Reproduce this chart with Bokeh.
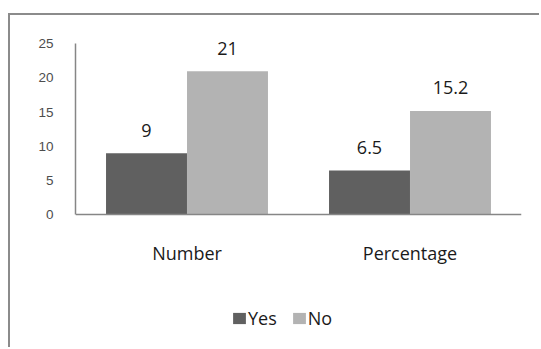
from bokeh.plotting import figure
from bokeh.models import ColumnDataSource, FactorRange, Range1d, Legend, LegendItem
from bokeh.transform import dodge
from bokeh.core.properties import value
from bokeh.embed import file_html
from bokeh.resources import INLINE

categories = ["Number", "Percentage"]
yes_values = [9, 6.5]
no_values = [21, 15.2]
yes_labels = ["9", "6.5"]
no_labels = ["21", "15.2"]
y_ticks = [0, 5, 10, 15, 20, 25]

src = ColumnDataSource(dict(cat=categories, yes=yes_values, no=no_values,
                            yes_lbl=yes_labels, no_lbl=no_labels))

# pixel scale: 6.85 px per unit; zero line at 214.5, frame spans screen 23..349
p = figure(x_range=FactorRange(factors=categories, range_padding=0),
           y_range=Range1d(-19.635, 27.956),
           width=531, height=334, output_backend="svg", toolbar_location=None,
           min_border_left=65, min_border_right=20, min_border_top=8, min_border_bottom=0)
p.margin = (13, 0, 0, 8)
p.styles = {"border-top": "2px solid #8b8b8b", "border-left": "2px solid #8b8b8b"}
p.outline_line_color = None
p.background_fill_color = "white"
p.border_fill_color = "white"
p.xgrid.visible = False
p.ygrid.visible = False

off = 0.1816
w = 0.363
r_yes = p.vbar(x=dodge("cat", -off, range=p.x_range), top="yes", width=w, source=src,
               fill_color="#606060", line_color=None)
r_no = p.vbar(x=dodge("cat", off, range=p.x_range), top="no", width=w, source=src,
              fill_color="#b3b3b3", line_color=None)

p.text(x=dodge("cat", -off, range=p.x_range), y="yes", text="yes_lbl", source=src,
       text_font=value("Open Sans"), text_font_size="18px", text_color="#1a1a1a",
       text_align="center", text_baseline="middle", y_offset=-23)
p.text(x=dodge("cat", off, range=p.x_range), y="no", text="no_lbl", source=src,
       text_font=value("Open Sans"), text_font_size="18px", text_color="#1a1a1a",
       text_align="center", text_baseline="middle", y_offset=-23)

ya = p.yaxis[0]
ya.ticker = y_ticks
ya.bounds = (0, 25)
ya.axis_line_color = "#868686"
ya.axis_line_width = 1.5
ya.major_tick_line_color = None
ya.minor_tick_line_color = None
ya.major_tick_out = 0
ya.major_tick_in = 0
ya.major_label_standoff = 22
ya.major_label_text_font = "Liberation Sans"
ya.major_label_text_font_size = "13.5px"
ya.major_label_text_color = "#4d4d4d"

xa = p.xaxis[0]
xa.fixed_location = 0
xa.axis_line_color = "#868686"
xa.axis_line_width = 1.5
xa.major_tick_line_color = None
xa.minor_tick_line_color = None
xa.major_tick_out = 0
xa.major_tick_in = 0
xa.major_label_standoff = 26
xa.major_label_text_font = "Open Sans"
xa.major_label_text_font_size = "18px"
xa.major_label_text_color = "#1a1a1a"

legend = Legend(items=[LegendItem(label="Yes", renderers=[r_yes]),
                       LegendItem(label="No", renderers=[r_no])],
                orientation="horizontal", location=(156, 19),
                padding=0, margin=0, spacing=14, label_standoff=1,
                glyph_width=16, glyph_height=14, label_height=20,
                label_text_font="Open Sans", label_text_font_size="18px",
                label_text_color="#1a1a1a", border_line_color=None,
                background_fill_alpha=0)
p.add_layout(legend, "center")

open("out.html", "w").write(file_html(p, INLINE))
